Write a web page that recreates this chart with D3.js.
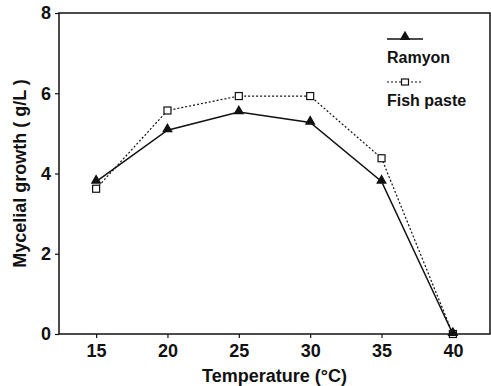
<!DOCTYPE html>
<html>
<head>
<meta charset="utf-8">
<script src="https://cdn.jsdelivr.net/npm/d3@7"></script>
<style>
  body { margin: 0; background: #fff; }
  text { font-family: "Liberation Sans", Arial, sans-serif; font-weight: bold; fill: #111; }
</style>
</head>
<body>
<svg id="chart" width="491" height="386"></svg>
<script>
// temperature (°C)
var temps = [15, 20, 25, 30, 35, 40];
// mycelial growth (g/L)
var ramyon = [3.8, 5.08, 5.53, 5.27, 3.8, 0];
var fishPaste = [3.62, 5.57, 5.93, 5.93, 4.38, 0];
var xTicks = [15, 20, 25, 30, 35, 40];
var yTicks = [0, 2, 4, 6, 8];

var svg = d3.select("#chart"),
  margin = {top: 13, right: 1, bottom: 52, left: 59},
  width = +svg.attr("width") - margin.left - margin.right,
  height = +svg.attr("height") - margin.top - margin.bottom;

var g = svg.append("g").attr("transform", "translate(" + margin.left + "," + margin.top + ")");

var x = d3.scaleLinear().domain([12.4, 42.6]).range([0, width]);
var y = d3.scaleLinear().domain([0, 8]).range([height, 0]);

// frame
g.append("rect")
  .attr("width", width).attr("height", height)
  .attr("fill", "none").attr("stroke", "#111").attr("stroke-width", 1.5);

var xAxis = g.append("g")
  .attr("transform", "translate(0," + height + ")")
  .call(d3.axisBottom(x).tickValues(xTicks).tickSize(4).tickPadding(6));
var yAxis = g.append("g")
  .call(d3.axisLeft(y).tickValues(yTicks).tickSize(4).tickPadding(4));

[xAxis, yAxis].forEach(function (a) {
  a.select(".domain").remove();
  a.selectAll("line").attr("stroke", "#111").attr("stroke-width", 1.2);
  a.selectAll("text").attr("font-size", 18).attr("font-family", "Liberation Sans, Arial, sans-serif")
    .attr("font-weight", "bold").attr("fill", "#111");
});

var line = d3.line()
  .x(function (d, i) { return x(temps[i]); })
  .y(function (d) { return y(d); });

// fish paste (dotted, open squares)
g.append("path").datum(fishPaste)
  .attr("d", line).attr("fill", "none")
  .attr("stroke", "#111").attr("stroke-width", 1.2).attr("stroke-dasharray", "2,2");

// ramyon (solid, filled triangles)
g.append("path").datum(ramyon)
  .attr("d", line).attr("fill", "none")
  .attr("stroke", "#111").attr("stroke-width", 1.5);

var tri = d3.symbol().type(d3.symbolTriangle).size(50);

g.selectAll(".sq").data(fishPaste).enter().append("rect")
  .attr("x", function (d, i) { return x(temps[i]) - 3.5; })
  .attr("y", function (d) { return y(d) - 3.5; })
  .attr("width", 7).attr("height", 7)
  .attr("fill", "#fff").attr("stroke", "#111").attr("stroke-width", 1.2);

g.selectAll(".tri").data(ramyon).enter().append("path")
  .attr("d", tri)
  .attr("transform", function (d, i) { return "translate(" + x(temps[i]) + "," + (y(d) - 1) + ")"; })
  .attr("fill", "#111");

// legend
var leg = svg.append("g");
leg.append("line").attr("x1", 387).attr("x2", 423).attr("y1", 39).attr("y2", 39)
  .attr("stroke", "#111").attr("stroke-width", 1.5);
leg.append("path").attr("d", tri).attr("transform", "translate(405,37)").attr("fill", "#111");
leg.append("text").attr("x", 387).attr("y", 63).attr("font-size", 16).text("Ramyon");
leg.append("line").attr("x1", 387).attr("x2", 423).attr("y1", 82).attr("y2", 82)
  .attr("stroke", "#111").attr("stroke-width", 1.2).attr("stroke-dasharray", "2,2");
leg.append("rect").attr("x", 401.5).attr("y", 79).attr("width", 7).attr("height", 6)
  .attr("fill", "#fff").attr("stroke", "#111").attr("stroke-width", 1.2);
leg.append("text").attr("x", 387).attr("y", 106).attr("font-size", 16).text("Fish paste");

// axis titles
svg.append("text")
  .attr("x", margin.left + x(27.5)).attr("y", 382)
  .attr("text-anchor", "middle").attr("font-size", 18)
  .text("Temperature (°C)");
svg.append("text")
  .attr("transform", "translate(26," + (margin.top + height / 2) + ") rotate(-90)")
  .attr("text-anchor", "middle").attr("font-size", 18)
  .text("Mycelial growth ( g/L )");
</script>
</body>
</html>
